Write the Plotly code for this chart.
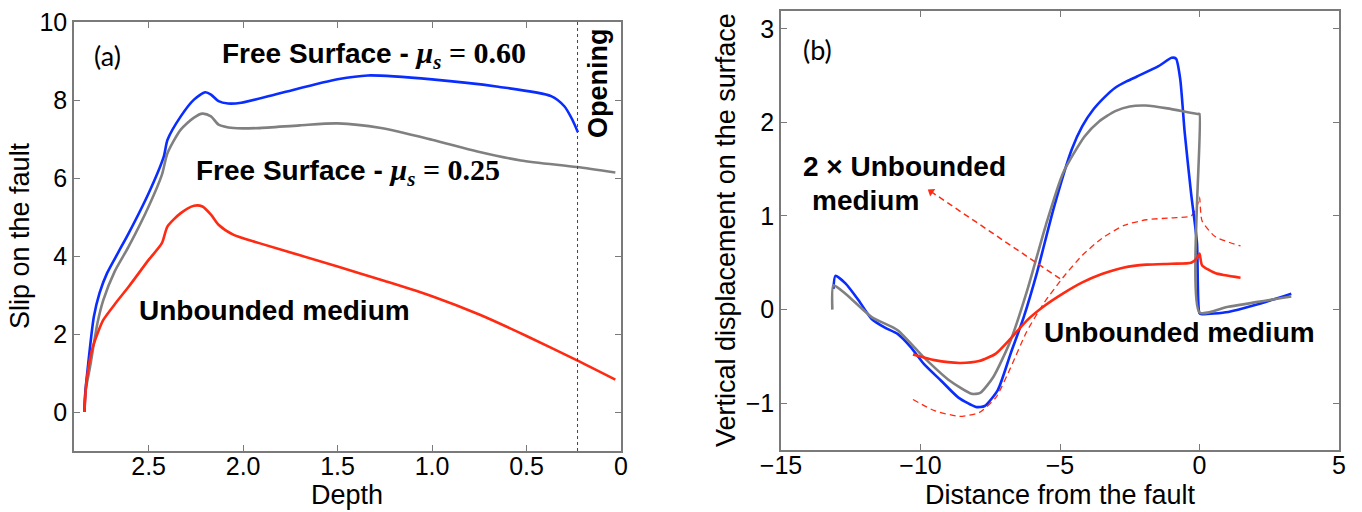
import plotly.graph_objects as go

W, H = 1362, 512

# ---------------- (a) slip on the fault vs depth ----------------
depth_fs60 = [2.84, 2.835, 2.825, 2.79, 2.76, 2.72, 2.66, 2.606, 2.5, 2.42, 2.40, 2.33, 2.26, 2.20,
              2.17, 2.13, 2.08, 2.01, 1.80, 1.50, 1.34, 1.0, 0.65, 0.37, 0.30, 0.258, 0.228]
slip_fs60 = [0.0, 0.5, 1.0, 2.44, 3.05, 3.56, 4.10, 4.58, 5.61, 6.55, 6.98, 7.58, 8.01, 8.20,
             8.14, 7.97, 7.91, 7.93, 8.18, 8.53, 8.63, 8.53, 8.34, 8.10, 7.84, 7.50, 7.17]

depth_fs25 = [2.84, 2.835, 2.81, 2.77, 2.74, 2.68, 2.606, 2.5, 2.43, 2.40, 2.33, 2.26, 2.215,
              2.17, 2.13, 2.05, 1.92, 1.70, 1.50, 1.27, 1.0, 0.76, 0.53, 0.235, 0.03]
slip_fs25 = [0.0, 0.5, 1.16, 2.30, 2.87, 3.60, 4.24, 5.27, 6.08, 6.64, 7.24, 7.55, 7.65,
             7.58, 7.37, 7.28, 7.28, 7.35, 7.40, 7.28, 6.98, 6.68, 6.45, 6.28, 6.14]

depth_ub = [2.84, 2.835, 2.83, 2.80, 2.77, 2.74, 2.67, 2.606, 2.5, 2.43, 2.40, 2.33, 2.26, 2.215,
            2.17, 2.13, 2.05, 1.915, 1.50, 1.25, 1.0, 0.75, 0.5, 0.235, 0.03]
slip_ub = [0.0, 0.4, 0.73, 1.59, 2.02, 2.36, 2.82, 3.21, 3.90, 4.33, 4.76, 5.10, 5.29, 5.27,
           5.06, 4.80, 4.54, 4.33, 3.73, 3.36, 2.97, 2.50, 1.95, 1.33, 0.83]

opening_depth = 0.23
depth_ticks = [2.5, 2.0, 1.5, 1.0, 0.5, 0]
depth_ticktext = ["2.5", "2.0", "1.5", "1.0", "0.5", "0"]

# ---------------- (b) vertical displacement on the surface ----------------
dist_fs60 = [-13.12, -13.05, -12.69, -12.22, -11.75, -11.29, -10.82, -10.35, -9.88, -9.26,
             -8.64, -8.01, -7.70, -7.23, -6.77, -6.30, -5.83, -5.21, -4.58, -4.2, -3.80, -3.4,
             -3.02, -2.6, -2.24, -1.47, -1.0, -0.84, -0.69, -0.53, -0.30, -0.09, 0.0, 0.09,
             1.03, 1.96, 3.29]
uz_fs60 = [0.22, 0.36, 0.28, 0.10, -0.10, -0.19, -0.26, -0.40, -0.58, -0.76,
           -0.94, -1.04, -1.03, -0.86, -0.47, -0.08, 0.39, 1.10, 1.71, 1.96, 2.14, 2.27,
           2.37, 2.44, 2.49, 2.60, 2.69, 2.68, 2.46, 1.89, 1.24, 0.71, -0.04, -0.05,
           -0.025, 0.046, 0.17]

dist_fs25 = [-13.16, -13.12, -12.69, -11.75, -10.82, -9.88, -8.95, -8.17, -7.86, -7.39, -6.77,
             -6.14, -5.52, -4.89, -4.12, -3.6, -3.02, -2.5, -1.93, -1.15, -0.06, 0.0, 0.0,
             1.03, 3.29]
uz_fs25 = [0.0, 0.26, 0.17, -0.08, -0.22, -0.51, -0.76, -0.90, -0.89, -0.72, -0.33,
           0.24, 0.89, 1.46, 1.85, 2.01, 2.12, 2.17, 2.18, 2.15, 2.09, 2.09, -0.03,
           0.03, 0.14]

dist_ub = [-10.27, -9.5, -8.6, -7.9, -7.3, -6.77, -6.2, -5.6, -4.9, -4.2, -3.5, -2.7, -1.9,
           -1.0, -0.3, -0.09, 0.0, 0.09, 0.56, 1.47]
uz_ub = [-0.48, -0.54, -0.57, -0.55, -0.47, -0.31, -0.12, 0.03, 0.17, 0.29, 0.38, 0.45, 0.48,
         0.49, 0.50, 0.55, 0.60, 0.475, 0.39, 0.34]
uz_ub_x2 = [2 * v for v in uz_ub]

# pointer from the doubled curve to its label
pointer_x = [-5.0, -9.62]
pointer_y = [0.33, 1.26]

BLUE = "#0a2dff"
GRAY = "#808080"
RED = "#ff2a12"
SANS = "Liberation Sans, Arial, sans-serif"
SERIF = "Liberation Serif, DejaVu Serif, serif"
FRAME = "#7a7a7a"


def px(x):
    return x / W


def py(y):
    return 1 - y / H


fig = go.Figure()

line_w = 2.6
fig.add_trace(go.Scatter(x=depth_fs25, y=slip_fs25, mode="lines", xaxis="x", yaxis="y",
                         line=dict(color=GRAY, width=line_w, shape="spline", smoothing=0.7)))
fig.add_trace(go.Scatter(x=depth_fs60, y=slip_fs60, mode="lines", xaxis="x", yaxis="y",
                         line=dict(color=BLUE, width=line_w, shape="spline", smoothing=0.7)))
fig.add_trace(go.Scatter(x=depth_ub, y=slip_ub, mode="lines", xaxis="x", yaxis="y",
                         line=dict(color=RED, width=line_w, shape="spline", smoothing=0.7)))

fig.add_trace(go.Scatter(x=dist_ub, y=uz_ub_x2, mode="lines", xaxis="x2", yaxis="y2",
                         line=dict(color=RED, width=1.3, dash="6px,4px", shape="spline", smoothing=0.6)))
fig.add_trace(go.Scatter(x=dist_fs60, y=uz_fs60, mode="lines", xaxis="x2", yaxis="y2",
                         line=dict(color=BLUE, width=line_w, shape="spline", smoothing=0.6)))
fig.add_trace(go.Scatter(x=dist_fs25, y=uz_fs25, mode="lines", xaxis="x2", yaxis="y2",
                         line=dict(color=GRAY, width=line_w, shape="spline", smoothing=0.6)))
fig.add_trace(go.Scatter(x=dist_ub, y=uz_ub, mode="lines", xaxis="x2", yaxis="y2",
                         line=dict(color=RED, width=line_w, shape="spline", smoothing=0.6)))

# dashed pointer with a small head at its upper-left end
fig.add_trace(go.Scatter(x=pointer_x, y=pointer_y, mode="lines", xaxis="x2", yaxis="y2",
                         line=dict(color=RED, width=1.5, dash="6px,4px")))
fig.add_trace(go.Scatter(x=[pointer_x[1]], y=[pointer_y[1]], mode="markers", xaxis="x2", yaxis="y2",
                         marker=dict(symbol="triangle-up", size=8, angle=-56, color=RED)))

axis_common = dict(showgrid=False, zeroline=False, showline=True, linecolor=FRAME, linewidth=1.5,
                   mirror="ticks", ticks="inside", ticklen=6, tickcolor=FRAME, tickwidth=1.2,
                   automargin=False,
                   tickfont=dict(family=SANS, size=25, color="black"))

fig.update_layout(
    template="none",
    width=W, height=H, autosize=False,
    margin=dict(l=0, r=0, t=0, b=0, pad=0),
    paper_bgcolor="white", plot_bgcolor="white",
    showlegend=False,
    xaxis=dict(domain=[px(74), px(621)], range=[2.895, 0], tickvals=depth_ticks,
               ticktext=depth_ticktext, anchor="y", ticklabelstandoff=-8, **axis_common),
    yaxis=dict(domain=[py(451), py(22)], range=[-1, 10], tickvals=[0, 2, 4, 6, 8, 10],
               anchor="x", **axis_common),
    xaxis2=dict(domain=[px(781), px(1339)], range=[-15, 5], tickvals=[-15, -10, -5, 0, 5],
                anchor="y2", ticklabelstandoff=-8, **axis_common),
    yaxis2=dict(domain=[py(450), py(11)], range=[-1.5, 3.19], tickvals=[-1, 0, 1, 2, 3],
                anchor="x2", **axis_common),
)

fig.add_shape(type="line", xref="x", yref="y", x0=opening_depth, x1=opening_depth, y0=-1, y1=10,
              line=dict(color="#444444", width=1, dash="dot"))


def label(text, x, y, size=26, bold=True, angle=0, xanchor="center", family=SANS):
    fig.add_annotation(text=f"<b>{text}</b>" if bold else text, xref="paper", yref="paper",
                       x=px(x), y=py(y), xanchor=xanchor, yanchor="middle", showarrow=False,
                       textangle=angle, font=dict(family=family, size=size, color="black"))


def mu_label(prefix, value):
    return (f"{prefix}<span style='font-family:{SERIF};font-size:30px'>"
            f"<i>μ<sub>s</sub></i> = {value}</span>")


label("(a)", 107, 55, size=27, bold=False, family="Lato, sans-serif")
label(mu_label("Free Surface - ", "0.60"), 374, 55, size=28)
label(mu_label("Free Surface - ", "0.25"), 348, 172, size=28)
label("Unbounded medium", 274, 310, size=28)
label("Opening", 598, 83, size=27, angle=-90)

label("(b)", 817, 49, size=27, bold=False, family="Lato, sans-serif")
label("2 × Unbounded", 801, 166, size=28, xanchor="left")
label("medium", 810, 200, size=28, xanchor="left")
label("Unbounded medium", 1179, 332, size=28)

label("Slip on the fault", 20, 236, size=27, bold=False, angle=-90)
label("Vertical displacement on the surface", 726, 230, size=27, bold=False, angle=-90)
label("Depth", 347, 495, size=27, bold=False)
label("Distance from the fault", 1060, 495, size=27, bold=False)

fig.write_html("out.html")
